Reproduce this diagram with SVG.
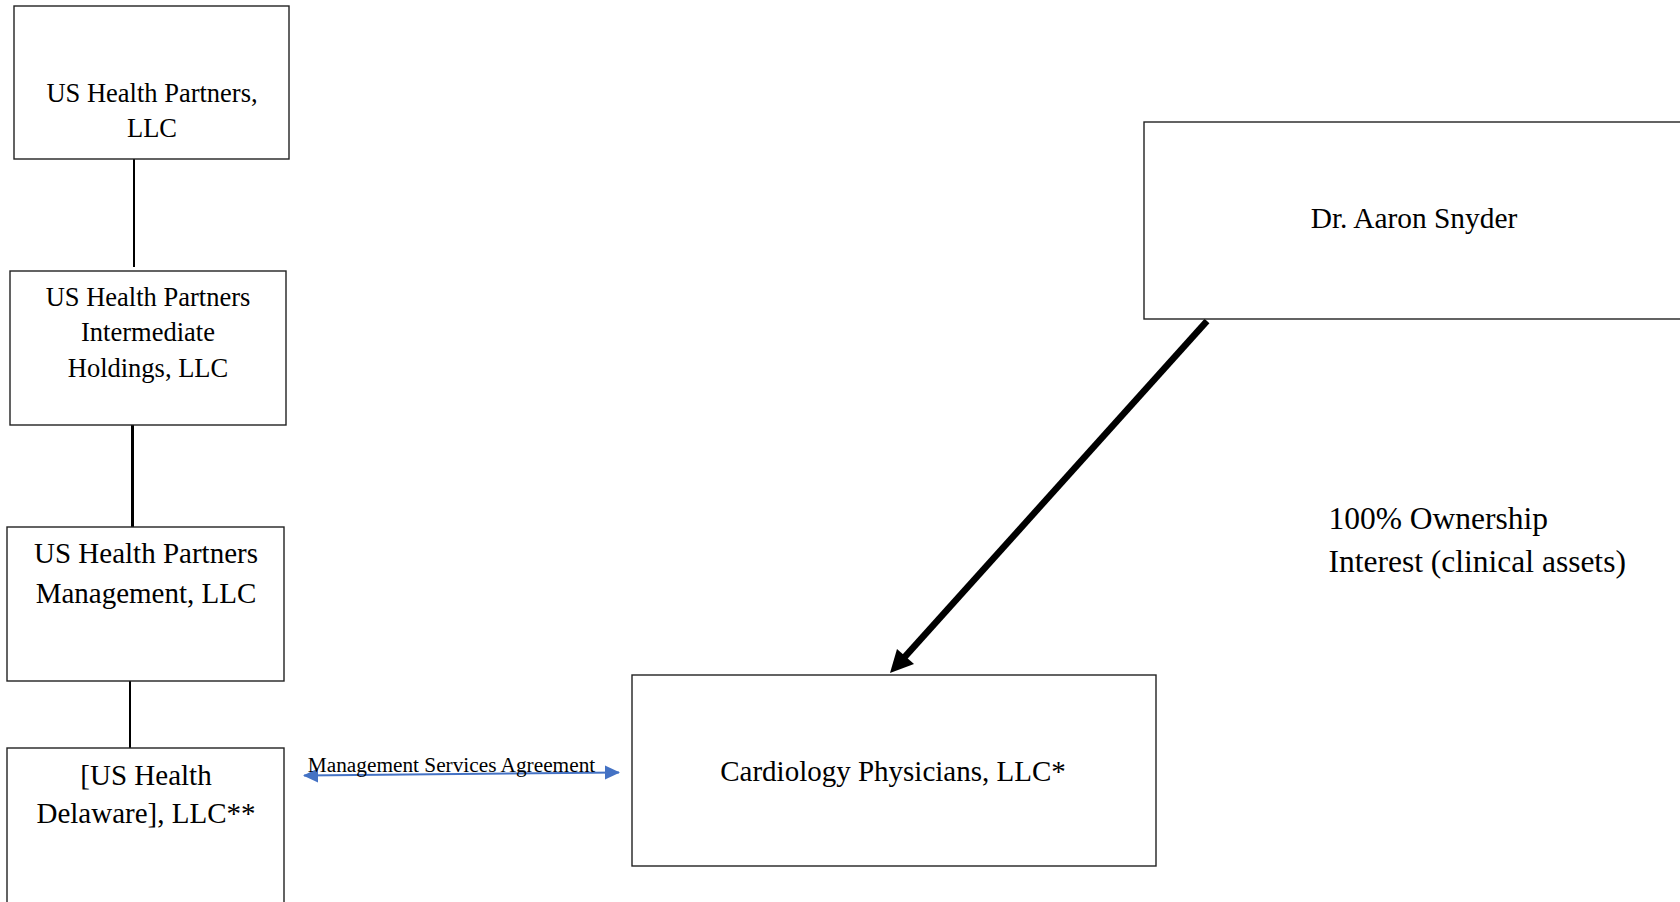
<svg xmlns="http://www.w3.org/2000/svg" width="1680" height="902" viewBox="0 0 1680 902">
<style>
.box{fill:#fff;stroke:#222;stroke-width:1.4}
.t{font-family:"Liberation Serif","Times New Roman",serif;fill:#000;text-anchor:middle}
.conn{stroke:#000;fill:none}
</style>
<rect width="1680" height="902" fill="#fff"/>
<g id="connectors">
<line class="conn" x1="134" y1="159" x2="134" y2="267" stroke-width="2"/>
<line class="conn" x1="132.5" y1="425" x2="132.5" y2="527" stroke-width="3"/>
<line class="conn" x1="130" y1="678" x2="130" y2="748" stroke-width="2"/>
<line x1="304" y1="775.5" x2="619" y2="772.5" stroke="#4472C4" stroke-width="2"/>
<path d="M303,775.5 L318,768.5 L318,782.5 Z" fill="#4472C4"/>
<path d="M620,772.5 L605,765.5 L605,779.5 Z" fill="#4472C4"/>
<line x1="1207" y1="321" x2="902" y2="660" stroke="#000" stroke-width="6.5"/>
<path d="M890,673 L897,649 L914,664 Z" fill="#000"/>
</g>
<g id="n1">
<rect class="box" x="14" y="6" width="275" height="153"/>
<text class="t" font-size="26.5" x="152" y="102">US Health Partners,</text>
<text class="t" font-size="26.5" x="152" y="137">LLC</text>
</g>
<g id="n2">
<rect class="box" x="10" y="271" width="276" height="154"/>
<text class="t" font-size="26.5" x="148" y="306">US Health Partners</text>
<text class="t" font-size="26.5" x="148" y="341">Intermediate</text>
<text class="t" font-size="26.5" x="148" y="377">Holdings, LLC</text>
</g>
<g id="n3">
<rect class="box" x="7" y="527" width="277" height="154"/>
<text class="t" font-size="29" x="146" y="563">US Health Partners</text>
<text class="t" font-size="29" x="146" y="603">Management, LLC</text>
</g>
<g id="n4">
<rect class="box" x="7" y="748" width="277" height="170"/>
<text class="t" font-size="29" x="146" y="785">[US Health</text>
<text class="t" font-size="29" x="146" y="823">Delaware], LLC**</text>
</g>
<g id="label-msa">
<text class="t" font-size="21.3" x="451.5" y="772">Management Services Agreement</text>
</g>
<g id="n5">
<rect class="box" x="1144" y="122" width="560" height="197"/>
<text class="t" font-size="29.4" x="1414" y="228">Dr. Aaron Snyder</text>
</g>
<g id="n6">
<rect class="box" x="632" y="675" width="524" height="191"/>
<text class="t" font-size="29" x="893" y="781">Cardiology Physicians, LLC*</text>
</g>
<g id="label-own">
<text font-family="'Liberation Serif','Times New Roman',serif" font-size="31.5" x="1328.5" y="529">100% Ownership</text>
<text font-family="'Liberation Serif','Times New Roman',serif" font-size="31.5" x="1328.5" y="572">Interest (clinical assets)</text>
</g>
</svg>
